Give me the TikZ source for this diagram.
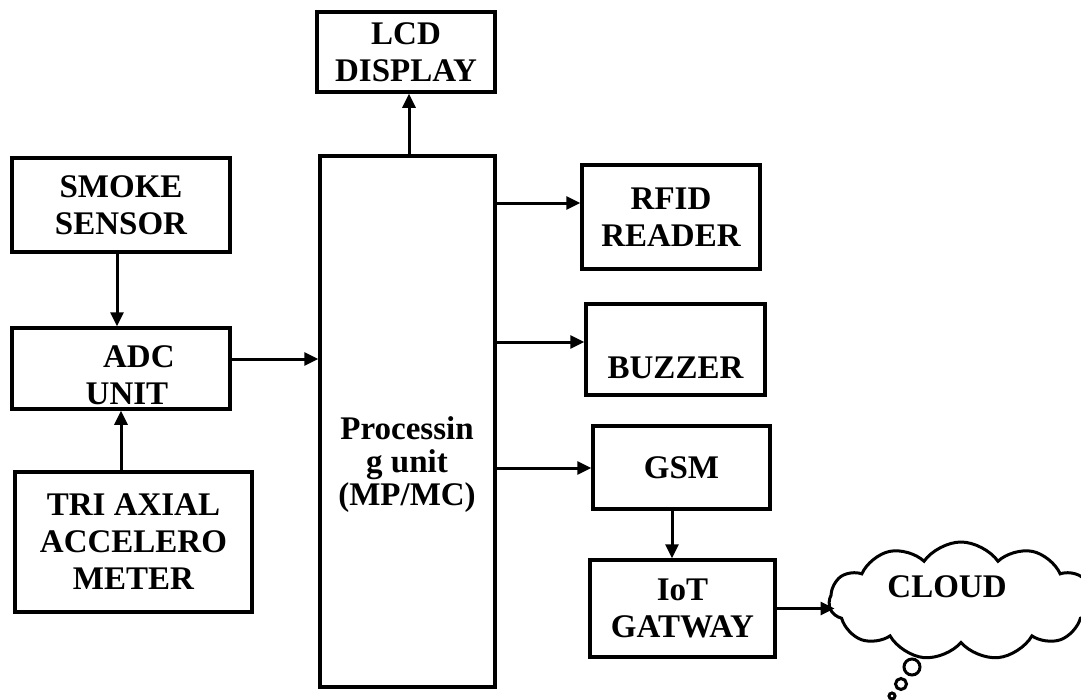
\documentclass[tikz,border=0pt]{standalone}
\usepackage{fontspec}
\setmainfont{Liberation Serif}
\usetikzlibrary{arrows.meta,shapes.symbols,calc}
\begin{document}
\begin{tikzpicture}[x=1pt,y=-1pt,
  txt/.style={font=\fontsize{33}{37}\selectfont\bfseries},
  box/.style={draw,line width=3.5pt,inner sep=0pt,align=center,txt},
  lbl/.style={inner sep=0pt,align=center,txt},
  arr/.style={line width=3pt,-{Triangle[length=14pt,width=13pt]}},
  bub/.style={draw,circle,line width=3pt,inner sep=0pt}
]
\useasboundingbox (0,0) rectangle (1081,699);
% boxes
\node[box,minimum width=178pt,minimum height=80pt] (lcd) at (406,52) {LCD\\DISPLAY};
\node[box,minimum width=175pt,minimum height=531pt] (proc) at (407.5,421.5) {};
\node[lbl,font=\fontsize{33}{33}\selectfont\bfseries] (ptext) at (407,465) {Processin\\g unit\\(MP/MC)};
\node[box,minimum width=218pt,minimum height=94pt] (smoke) at (121,205) {SMOKE\\SENSOR};
\node[box,minimum width=218pt,minimum height=81pt] (adc) at (121,368.5) {};
\node[lbl] (adctext) at (127,375) {\hphantom{U}ADC\\UNIT};
\node[box,minimum width=237pt,minimum height=140pt] (tri) at (133.5,542) {TRI AXIAL\\ACCELERO\\METER};
\node[box,minimum width=178pt,minimum height=104pt] (rfid) at (671,217) {RFID\\READER};
\node[box,minimum width=179pt,minimum height=91pt] (buzzer) at (675.5,349.5) {};
\node[lbl] (btext) at (675.5,368) {BUZZER};
\node[box,minimum width=177pt,minimum height=83pt] (gsm) at (681.5,467.5) {GSM};
\node[box,minimum width=185pt,minimum height=97pt] (iot) at (682.5,608.5) {IoT\\GATWAY};
% cloud
\node[draw,cloud,line width=3pt,cloud puffs=11,cloud puff arc=110,aspect=2.3,
      minimum width=264pt,minimum height=118pt,inner sep=0pt] (cloud) at (961,601) {};
\node[lbl] (ctext) at (947,587) {CLOUD};
\node[bub,minimum size=16pt] (b1) at (912,667) {};
\node[bub,minimum size=11pt] (b2) at (901,684) {};
\node[bub,minimum size=6pt] (b3) at (892,696) {};
% connectors
\draw[arr] (proc.north -| 409,0) -- (lcd.south -| 409,0);
\draw[arr] (smoke.south -| 117,0) -- (adc.north -| 117,0);
\draw[arr] (tri.north -| 121,0) -- (adc.south -| 121,0);
\draw[arr] (adc.east |- 0,359) -- (proc.west |- 0,359);
\draw[arr] (proc.east |- 0,203) -- (rfid.west |- 0,203);
\draw[arr] (proc.east |- 0,342) -- (buzzer.west |- 0,342);
\draw[arr] (proc.east |- 0,468) -- (gsm.west |- 0,468);
\draw[arr] (gsm.south -| 672,0) -- (iot.north -| 672,0);
\draw[arr] (iot.east) -- ([xshift=7pt]iot.east -| cloud.west);
\end{tikzpicture}
\end{document}
